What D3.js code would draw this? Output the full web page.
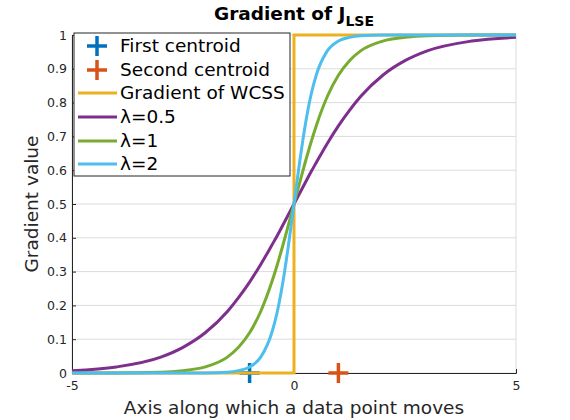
<!DOCTYPE html>
<html>
<head>
<meta charset="utf-8">
<script src="https://cdn.jsdelivr.net/npm/d3@7"></script>
<style>
  body { margin: 0; background: #fff; }
  svg { font-family: "DejaVu Sans", sans-serif; }
</style>
</head>
<body>
<div id="chart"></div>
<script>
// sample positions along the axis
var xs = [-5, -4, -3, -2.5, -2, -1.5, -1.25, -1, -0.75, -0.5, -0.375, -0.25, -0.125, 0,
          0.125, 0.25, 0.375, 0.5, 0.75, 1, 1.25, 1.5, 2, 2.5, 3, 4, 5];

// gradient values
var lam05 = [0.007, 0.018, 0.047, 0.076, 0.119, 0.182, 0.223, 0.269, 0.321, 0.378, 0.407, 0.438, 0.469, 0.5,
             0.531, 0.562, 0.593, 0.622, 0.679, 0.731, 0.777, 0.818, 0.881, 0.924, 0.953, 0.982, 0.993];
var lam1  = [0.000, 0.000, 0.002, 0.007, 0.018, 0.047, 0.076, 0.119, 0.182, 0.269, 0.321, 0.378, 0.438, 0.5,
             0.562, 0.622, 0.679, 0.731, 0.818, 0.881, 0.924, 0.953, 0.982, 0.993, 0.998, 1.0, 1.0];
var lam2  = [0.000, 0.000, 0.000, 0.000, 0.000, 0.002, 0.007, 0.018, 0.047, 0.119, 0.182, 0.269, 0.378, 0.5,
             0.622, 0.731, 0.818, 0.881, 0.953, 0.982, 0.993, 0.998, 1.0, 1.0, 1.0, 1.0, 1.0];

// WCSS gradient is a step at zero
var wcssX = [-5, 0, 0, 5];
var wcssY = [0, 0, 1, 1];

var centroidX = [-1, 1];
var centroidY = [0, 0];

var xTicks = [-5, 0, 5];
var yTicks = [0, 0.1, 0.2, 0.3, 0.4, 0.5, 0.6, 0.7, 0.8, 0.9, 1];

var seriesNames = ["Gradient of WCSS", "\u03bb=0.5", "\u03bb=1", "\u03bb=2"];
var colors = ["#EDB120", "#7E2F8E", "#77AC30", "#4DBEEE"];
var centroidNames = ["First centroid", "Second centroid"];
var centroidColors = ["#0072BD", "#D95319"];

var svgWidth = 570, svgHeight = 420;
var margin = { top: 35, right: 54, bottom: 47, left: 72 };
var width = svgWidth - margin.left - margin.right;
var height = svgHeight - margin.top - margin.bottom;

var svg = d3.select("#chart")
  .append("svg")
  .attr("width", svgWidth)
  .attr("height", svgHeight);

var g = svg.append("g")
  .attr("transform", "translate(" + margin.left + "," + margin.top + ")");

var x = d3.scaleLinear().domain([-5, 5]).range([0, width]);
var y = d3.scaleLinear().domain([0, 1]).range([height, 0]);

// grid
g.append("g").selectAll("line")
  .data(yTicks)
  .enter().append("line")
  .attr("x1", 0).attr("x2", width)
  .attr("y1", function(d) { return y(d); })
  .attr("y2", function(d) { return y(d); })
  .style("stroke", "#dcdcdc").style("stroke-width", 1);

g.append("g").selectAll("line")
  .data(xTicks)
  .enter().append("line")
  .attr("x1", function(d) { return x(d); })
  .attr("x2", function(d) { return x(d); })
  .attr("y1", 0).attr("y2", height)
  .style("stroke", "#dcdcdc").style("stroke-width", 1);

// plain hyphen for negatives, like the original
var plain = function(d) { return String(d); };

// axes
var xAxis = g.append("g")
  .attr("transform", "translate(0," + height + ")")
  .call(d3.axisBottom(x).tickValues(xTicks).tickSize(-4).tickPadding(8).tickFormat(plain));
var yAxis = g.append("g")
  .call(d3.axisLeft(y).tickValues(yTicks).tickSize(-4).tickPadding(5).tickFormat(plain));

[xAxis, yAxis].forEach(function(a) {
  a.select(".domain").style("stroke", "#262626");
  a.selectAll(".tick line").style("stroke", "#262626");
  a.selectAll("text").style("font-size", "12.5px").style("fill", "#262626")
    .style("font-family", "DejaVu Sans, sans-serif");
});

// centroid markers
g.selectAll(".centroid")
  .data(centroidX)
  .enter().append("path")
  .attr("class", "centroid")
  .attr("d", function(d, i) {
    var cx = x(d), cy = y(centroidY[i]);
    return "M" + (cx - 10) + "," + cy + "H" + (cx + 10) + "M" + cx + "," + (cy - 10) + "V" + (cy + 10);
  })
  .style("stroke", function(d, i) { return centroidColors[i]; })
  .style("stroke-width", 3.5)
  .style("fill", "none");

// curves
var line = d3.line()
  .x(function(d) { return x(d[0]); })
  .y(function(d) { return y(d[1]); });

var stepData = wcssX.map(function(v, i) { return [v, wcssY[i]]; });
g.append("path")
  .attr("d", line.curve(d3.curveLinear)(stepData))
  .style("fill", "none").style("stroke", colors[0]).style("stroke-width", 3);

[lam05, lam1, lam2].forEach(function(ys, k) {
  var pts = xs.map(function(v, i) { return [v, ys[i]]; });
  g.append("path")
    .attr("d", line.curve(d3.curveMonotoneX)(pts))
    .style("fill", "none").style("stroke", colors[k + 1]).style("stroke-width", 3);
});

// title
var title = svg.append("text")
  .attr("x", margin.left + width / 2)
  .attr("y", 20)
  .attr("text-anchor", "middle")
  .style("font-size", "18.5px")
  .style("font-weight", "bold")
  .style("fill", "#000");
title.append("tspan").text("Gradient of J");
title.append("tspan").attr("dy", 6).style("font-size", "14px").text("LSE");

// axis labels
svg.append("text")
  .attr("x", margin.left + width / 2)
  .attr("y", 414)
  .attr("text-anchor", "middle")
  .style("font-size", "18.5px")
  .style("fill", "#262626")
  .text("Axis along which a data point moves");

svg.append("text")
  .attr("transform", "translate(38," + (margin.top + height / 2) + ") rotate(-90)")
  .attr("text-anchor", "middle")
  .style("font-size", "18.5px")
  .style("fill", "#262626")
  .text("Gradient value");

// legend
var legend = svg.append("g").attr("transform", "translate(74,33)");
legend.append("rect")
  .attr("width", 216).attr("height", 143)
  .style("fill", "#fff").style("stroke", "#262626").style("stroke-width", 1);

var entryY = [13, 37, 60, 84, 108, 131];
centroidNames.forEach(function(name, i) {
  var cy = entryY[i], cx = 23;
  legend.append("path")
    .attr("d", "M" + (cx - 10) + "," + cy + "H" + (cx + 10) + "M" + cx + "," + (cy - 10) + "V" + (cy + 10))
    .style("stroke", centroidColors[i]).style("stroke-width", 3.5);
  legend.append("text")
    .attr("x", 46).attr("y", cy).attr("dy", "0.35em")
    .style("font-size", "18.5px").style("fill", "#000")
    .text(name);
});
seriesNames.forEach(function(name, i) {
  var cy = entryY[i + 2];
  legend.append("line")
    .attr("x1", 4).attr("x2", 43).attr("y1", cy).attr("y2", cy)
    .style("stroke", colors[i]).style("stroke-width", 3);
  legend.append("text")
    .attr("x", 46).attr("y", cy).attr("dy", "0.35em")
    .style("font-size", "18.5px").style("fill", "#000")
    .text(name);
});
</script>
</body>
</html>
